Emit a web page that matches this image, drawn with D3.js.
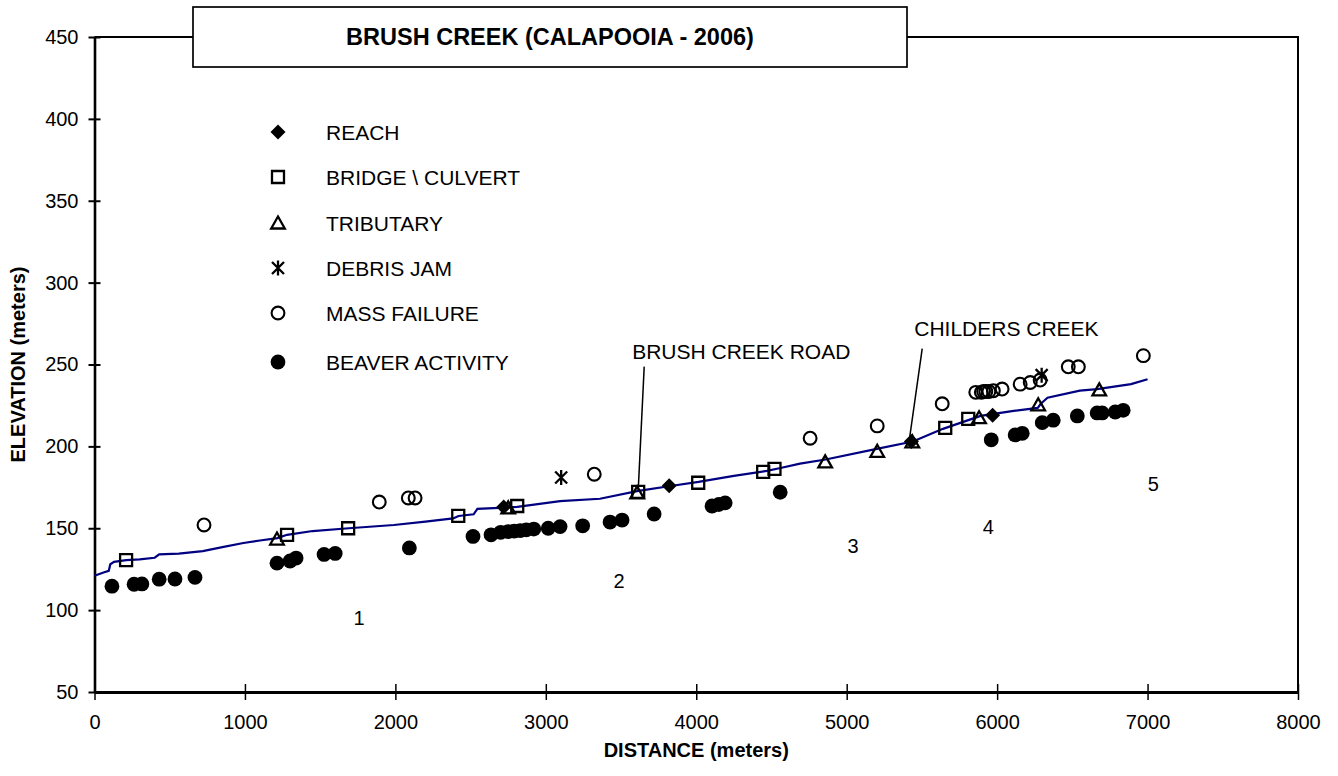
<!DOCTYPE html>
<html>
<head>
<meta charset="utf-8">
<script src="https://cdn.jsdelivr.net/npm/d3@7/dist/d3.min.js"></script>
<style>
  body { margin: 0; background: #fff; }
  text { font-family: "Liberation Sans", Arial, sans-serif; fill: #000; }
</style>
</head>
<body>
<svg id="chart" width="1338" height="776"></svg>
<script>
// stream profile (distance m, elevation m)
var profile = [
  [0, 121], [60, 123], [95, 124], [105, 128], [130, 129.5], [210, 130.5], [300, 131],
  [400, 132], [430, 134], [560, 134.5], [720, 136], [850, 138.5], [990, 141],
  [1100, 142.5], [1215, 144], [1280, 146], [1450, 148.3], [1690, 150], [1990, 152],
  [2200, 154], [2384, 156], [2420, 157.5], [2520, 158.5], [2545, 161.8], [2810, 163],
  [3095, 166.6], [3360, 168], [3615, 172.8], [3830, 175.8], [4015, 178.3], [4250, 182],
  [4470, 185], [4560, 186.8], [4690, 189.5], [4860, 192], [5200, 198.5], [5440, 203],
  [5640, 210.7], [5890, 218.6], [6110, 221.7], [6270, 223.5], [6290, 226], [6335, 229.7],
  [6550, 234], [6665, 235], [6890, 238], [7000, 241]
];

var reach = [[2720, 163], [3820, 176], [5430, 203], [5970, 219]];

var bridges = [
  [210, 130.5], [1280, 146], [1686, 150], [2418, 157.5], [2810, 163.6], [3614, 172.2],
  [4013, 177.8], [4445, 184.4], [4520, 186.2], [5655, 211.3], [5808, 216.8]
];

var tributaries = [
  [1213, 143.4], [2750, 162.5], [3607, 171.6], [4857, 190.5], [5203, 197],
  [5436, 202.8], [5880, 217.5], [6273, 225.4], [6679, 234.5]
];

var debrisJams = [[3102, 181], [6296, 243.5]];

var massFailures = [
  [728, 152], [1893, 166], [2086, 168.5], [2131, 168.5], [3322, 183], [4757, 205],
  [5203, 212.5], [5635, 226], [5858, 233], [5895, 233], [5910, 233.5], [5925, 233.5],
  [5945, 233.5], [5975, 234], [6033, 235], [6153, 238], [6220, 239], [6286, 240.5],
  [6473, 248.6], [6540, 248.6], [6972, 255.4]
];

var beaver = [
  [116, 114.6], [263, 115.8], [315, 116], [430, 118.9], [535, 119], [668, 120],
  [1213, 128.7], [1300, 130], [1340, 131.8], [1526, 134], [1600, 134.6], [2093, 138],
  [2516, 145], [2636, 146], [2700, 147.5], [2750, 148], [2790, 148.3], [2830, 148.6],
  [2870, 149], [2920, 149.5], [3016, 150], [3095, 151], [3245, 151.5], [3427, 153.8],
  [3507, 155], [3720, 158.7], [4105, 163.6], [4150, 164.5], [4192, 165.5], [4558, 172],
  [5961, 204], [6120, 207], [6167, 208], [6300, 214.5], [6373, 216], [6533, 218.6],
  [6665, 220.4], [6698, 220.4], [6785, 221], [6838, 222]
];

// reach numbers
var reachLabels = [
  {text: "1", x: 1759, y: 95}, {text: "2", x: 3487, y: 118}, {text: "3", x: 5043, y: 139},
  {text: "4", x: 5941, y: 151}, {text: "5", x: 7038, y: 177}
];

// annotations with leader lines
var notes = [
  {text: "BRUSH CREEK ROAD", x: 3574, y: 253.5, from: [3654, 248.7], to: [3614, 172.7]},
  {text: "CHILDERS CREEK", x: 5449, y: 267.6, from: [5502, 259.7], to: [5415, 203]}
];

var xTicks = [0, 1000, 2000, 3000, 4000, 5000, 6000, 7000, 8000];
var yTicks = [50, 100, 150, 200, 250, 300, 350, 400, 450];

(function() {
  var svg = d3.select('#chart');
  var mLeft = 94.5, mRight = 1298, mTop = 37, mBottom = 692;

  var x = d3.scaleLinear().domain([0, 8000]).range([mLeft, mRight]);
  var y = d3.scaleLinear().domain([50, 450]).range([mBottom, mTop]);

  // frame (top + right)
  svg.append('path')
    .attr('d', 'M' + mLeft + ',' + mTop + 'H' + mRight + 'V' + mBottom)
    .attr('fill', 'none')
    .attr('stroke', '#000')
    .attr('stroke-width', 2);

  // y axis
  var yAxis = svg.append('g')
    .attr('transform', 'translate(' + mLeft + ',0)')
    .call(d3.axisLeft(y).tickValues(yTicks).tickFormat(d3.format('d'))
      .tickSizeInner(6).tickSizeOuter(0).tickPadding(10));
  yAxis.select('.domain').attr('stroke-width', 2.6);
  yAxis.selectAll('.tick line').attr('x1', -6).attr('x2', 6).attr('stroke-width', 2);
  yAxis.selectAll('.tick text').attr('font-size', 20).attr('font-family', '"Liberation Sans", Arial, sans-serif');

  // x axis
  var xAxis = svg.append('g')
    .attr('transform', 'translate(0,' + mBottom + ')')
    .call(d3.axisBottom(x).tickValues(xTicks).tickFormat(d3.format('d'))
      .tickSizeInner(8).tickSizeOuter(0).tickPadding(15));
  xAxis.select('.domain').attr('stroke-width', 3);
  xAxis.selectAll('.tick line').attr('y1', -8).attr('y2', 8).attr('stroke-width', 1.5);
  xAxis.selectAll('.tick text').attr('font-size', 20).attr('font-family', '"Liberation Sans", Arial, sans-serif');

  // axis titles
  svg.append('text')
    .attr('x', (mLeft + mRight) / 2)
    .attr('y', 757)
    .attr('text-anchor', 'middle')
    .attr('font-size', 20)
    .attr('font-weight', 'bold')
    .text('DISTANCE (meters)');

  svg.append('text')
    .attr('transform', 'translate(25,' + (mTop + mBottom) / 2 + ') rotate(-90)')
    .attr('text-anchor', 'middle')
    .attr('font-size', 20)
    .attr('font-weight', 'bold')
    .text('ELEVATION (meters)');

  // title box
  svg.append('rect')
    .attr('x', 193).attr('y', 7)
    .attr('width', 714).attr('height', 60)
    .attr('fill', '#fff')
    .attr('stroke', '#000')
    .attr('stroke-width', 1.7);
  svg.append('text')
    .attr('x', 550).attr('y', 45)
    .attr('text-anchor', 'middle')
    .attr('font-size', 23.5)
    .attr('font-weight', 'bold')
    .text('BRUSH CREEK (CALAPOOIA - 2006)');

  // marker shapes
  var shapes = {
    diamond: 'M0,-7.5L7.5,0L0,7.5L-7.5,0Z',
    square: 'M-6,-6H6V6H-6Z',
    triangle: 'M0,-6.5L6.8,5.5H-6.8Z',
    star: 'M0,-7.5V7.5M-6,-6L6,6M6,-6L-6,6'
  };

  function drawOne(g, kind, cx, cy) {
    if (kind === 'filled') {
      g.append('circle').attr('cx', cx).attr('cy', cy).attr('r', 7.4).attr('fill', '#000');
    } else if (kind === 'open') {
      g.append('circle').attr('cx', cx).attr('cy', cy).attr('r', 6.4)
        .attr('fill', 'none').attr('stroke', '#000').attr('stroke-width', 2.1);
    } else if (kind === 'diamond') {
      g.append('path').attr('d', shapes.diamond).attr('transform', 'translate(' + cx + ',' + cy + ')')
        .attr('fill', '#000');
    } else {
      g.append('path').attr('d', shapes[kind]).attr('transform', 'translate(' + cx + ',' + cy + ')')
        .attr('fill', 'none').attr('stroke', '#000').attr('stroke-width', 2.3);
    }
  }

  function drawMarks(data, kind) {
    var g = svg.append('g');
    data.forEach(function(d) {
      drawOne(g, kind, x(d[0]), y(d[1]));
    });
  }

  // profile line
  var line = d3.line().x(d => x(d[0])).y(d => y(d[1]));
  svg.append('path')
    .datum(profile)
    .attr('d', line)
    .attr('fill', 'none')
    .attr('stroke', '#000080')
    .attr('stroke-width', 2.2);

  drawMarks(beaver, 'filled');
  drawMarks(massFailures, 'open');
  drawMarks(debrisJams, 'star');
  drawMarks(bridges, 'square');
  drawMarks(tributaries, 'triangle');
  drawMarks(reach, 'diamond');

  // annotations
  notes.forEach(function(n) {
    svg.append('line')
      .attr('x1', x(n.from[0])).attr('y1', y(n.from[1]))
      .attr('x2', x(n.to[0])).attr('y2', y(n.to[1]))
      .attr('stroke', '#000').attr('stroke-width', 1.5);
    svg.append('text')
      .attr('x', x(n.x)).attr('y', y(n.y))
      .attr('font-size', 21)
      .text(n.text);
  });

  svg.selectAll('.reach-label')
    .data(reachLabels).enter()
    .append('text')
    .attr('class', 'reach-label')
    .attr('x', d => x(d.x))
    .attr('y', d => y(d.y) + 7)
    .attr('text-anchor', 'middle')
    .attr('font-size', 20)
    .text(d => d.text);

  // legend
  var legendItems = [
    {kind: 'diamond', label: 'REACH', cy: 132},
    {kind: 'square', label: 'BRIDGE \\ CULVERT', cy: 177},
    {kind: 'triangle', label: 'TRIBUTARY', cy: 223},
    {kind: 'star', label: 'DEBRIS JAM', cy: 268},
    {kind: 'open', label: 'MASS FAILURE', cy: 313},
    {kind: 'filled', label: 'BEAVER ACTIVITY', cy: 362}
  ];
  var legend = svg.append('g');
  legendItems.forEach(function(it) {
    drawOne(legend, it.kind, 278, it.cy);
    legend.append('text')
      .attr('x', 326).attr('y', it.cy + 7.5)
      .attr('font-size', 21)
      .text(it.label);
  });
})();
</script>
</body>
</html>
